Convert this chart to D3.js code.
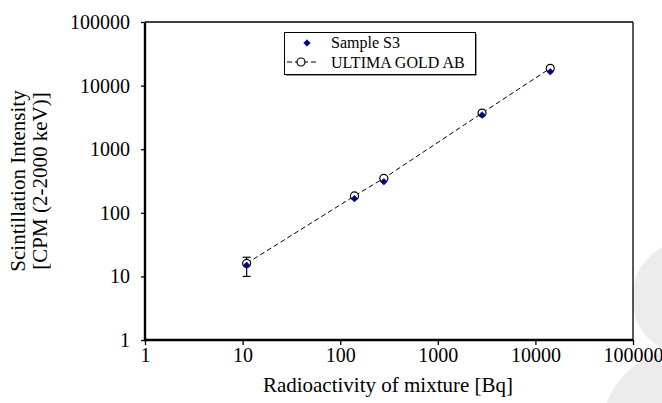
<!DOCTYPE html>
<html>
<head>
<meta charset="utf-8">
<script src="https://cdn.jsdelivr.net/npm/d3@7"></script>
<style>
  body { margin: 0; background: #fff; }
  text { font-family: "Liberation Serif", "Times New Roman", serif; }
</style>
</head>
<body>
<svg id="chart" width="662" height="403"></svg>
<script>
// values
var activity = [11, 140, 280, 2840, 14200];          // Bq
var sampleS3 = [15, 167, 308, 3450, 16500];           // CPM
var sampleS3Err = [5, 0, 0, 0, 0];
var ultimaGold = [16, 184, 349, 3700, 18700];          // CPM
var decadeTicks = [1, 10, 100, 1000, 10000, 100000];

var svg = d3.select('#chart');

// grey watermark in the corner
var mark = svg.append('g').attr('fill', '#ececec');
mark.append('circle').attr('cx', 690).attr('cy', 298).attr('r', 58);
mark.append('circle').attr('cx', 682).attr('cy', 430).attr('r', 80);

var x = d3.scaleLog().domain([1, 100000]).range([145, 633]);
var y = d3.scaleLog().domain([1, 100000]).range([340, 22]);

// frame (top and right thin)
svg.append('line').attr('x1', 145).attr('x2', 633).attr('y1', 22).attr('y2', 22)
  .attr('stroke', '#000').attr('stroke-width', 1.3);
svg.append('line').attr('x1', 633).attr('x2', 633).attr('y1', 22).attr('y2', 340)
  .attr('stroke', '#000').attr('stroke-width', 1.3);

var xAxis = svg.append('g')
  .attr('transform', 'translate(0,340)')
  .call(d3.axisBottom(x).tickValues(decadeTicks).tickFormat(d3.format('d')).tickSize(5).tickPadding(3));
var yAxis = svg.append('g')
  .attr('transform', 'translate(145,0)')
  .call(d3.axisLeft(y).tickValues(decadeTicks).tickFormat(d3.format('d')).tickSize(4).tickPadding(11));

[xAxis, yAxis].forEach(function(a){
  a.select('.domain').attr('stroke-width', 2.4);
  a.selectAll('.tick line').attr('stroke-width', 1.3);
  a.selectAll('.tick text').attr('font-size', 20).attr('fill', '#000')
    .style('font-family', '"Liberation Serif", serif');
});
xAxis.select('.domain').attr('d', 'M144,0H633');
yAxis.select('.domain').attr('d', 'M0,340V22');

// axis titles
svg.append('text').attr('x', 388).attr('y', 392).attr('text-anchor', 'middle')
  .attr('font-size', 21).text('Radioactivity of mixture [Bq]');
svg.append('text').attr('transform', 'translate(25,181) rotate(-90)').attr('text-anchor', 'middle')
  .attr('font-size', 21).text('Scintillation Intensity');
svg.append('text').attr('transform', 'translate(47,181) rotate(-90)').attr('text-anchor', 'middle')
  .attr('font-size', 21).text('[CPM (2-2000 keV)]');

// dashed line for ULTIMA GOLD AB
var line = d3.line()
  .x(function(d, i){ return x(activity[i]); })
  .y(function(d){ return y(d); });
svg.append('path').datum(ultimaGold)
  .attr('d', line).attr('fill', 'none').attr('stroke', '#000')
  .attr('stroke-width', 1).attr('stroke-dasharray', '5,3');

// error bars for sample S3
var err = svg.append('g').attr('stroke', '#000').attr('stroke-width', 1.2);
sampleS3.forEach(function(v, i){
  var e = sampleS3Err[i];
  if (!e) return;
  var cx = x(activity[i]);
  err.append('line').attr('x1', cx).attr('x2', cx).attr('y1', y(v + e)).attr('y2', y(v - e));
  err.append('line').attr('x1', cx - 4).attr('x2', cx + 4).attr('y1', y(v + e)).attr('y2', y(v + e));
  err.append('line').attr('x1', cx - 4).attr('x2', cx + 4).attr('y1', y(v - e)).attr('y2', y(v - e));
});

// square diamond, like the spreadsheet marker
var squareDiamond = {
  draw: function(ctx, size){
    var r = Math.sqrt(size / 2);
    ctx.moveTo(0, -r); ctx.lineTo(r, 0); ctx.lineTo(0, r); ctx.lineTo(-r, 0); ctx.closePath();
  }
};
var diamond = d3.symbol().type(squareDiamond).size(22);

// open circles
svg.append('g').selectAll('circle').data(ultimaGold).enter().append('circle')
  .attr('cx', function(d, i){ return x(activity[i]); })
  .attr('cy', function(d){ return y(d); })
  .attr('r', 4).attr('fill', '#fff').attr('stroke', '#000').attr('stroke-width', 1.2);

// navy diamonds
svg.append('g').selectAll('path').data(sampleS3).enter().append('path')
  .attr('d', diamond)
  .attr('transform', function(d, i){ return 'translate(' + x(activity[i]) + ',' + y(d) + ')'; })
  .attr('fill', '#000080').attr('stroke', '#000080').attr('stroke-width', 0.6);

// legend
var lg = svg.append('g');
lg.append('rect').attr('x', 286).attr('y', 34).attr('width', 191).attr('height', 42).attr('fill', '#999');
lg.append('rect').attr('x', 284.5).attr('y', 32.5).attr('width', 191).attr('height', 42)
  .attr('fill', '#fff').attr('stroke', '#000').attr('stroke-width', 1);
lg.append('path').attr('d', diamond).attr('transform', 'translate(307,43)')
  .attr('fill', '#000080').attr('stroke', '#000080').attr('stroke-width', 0.6);
lg.append('line').attr('x1', 287).attr('x2', 318).attr('y1', 62).attr('y2', 62)
  .attr('stroke', '#000').attr('stroke-dasharray', '5,3');
lg.append('circle').attr('cx', 301).attr('cy', 62).attr('r', 4)
  .attr('fill', '#fff').attr('stroke', '#000').attr('stroke-width', 1.2);
lg.append('text').attr('x', 331).attr('y', 48).attr('font-size', 16).text('Sample S3');
lg.append('text').attr('x', 331).attr('y', 68).attr('font-size', 16).text('ULTIMA GOLD AB');
</script>
</body>
</html>
